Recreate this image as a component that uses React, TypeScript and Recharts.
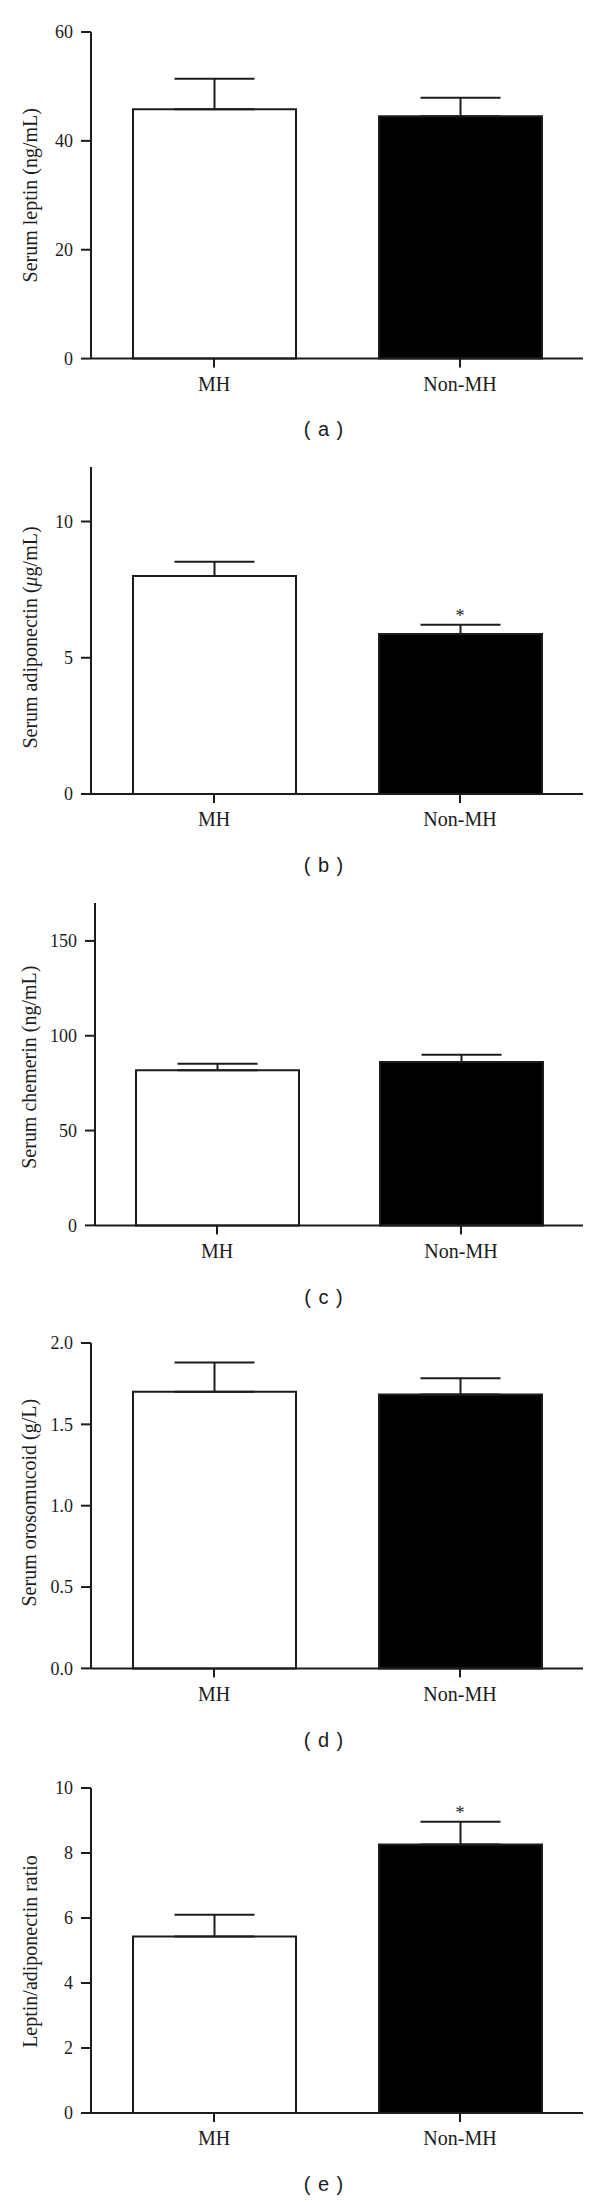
import React from 'react';
import { BarChart, Bar, XAxis, YAxis, Cell, ErrorBar, ReferenceDot, Label } from 'recharts';

const groups = ['MH', 'Non-MH'];

// group means and SEM (only the upper whisker is drawn)
const leptin = [45.8, 44.5];
const leptinSem = [5.6, 3.4];
const adiponectin = [8.0, 5.87];
const adiponectinSem = [0.52, 0.34];
const chemerin = [81.8, 86.2];
const chemerinSem = [3.5, 3.8];
const orosomucoid = [1.7, 1.684];
const orosomucoidSem = [0.18, 0.1];
const ratio = [5.43, 8.26];
const ratioSem = [0.67, 0.7];

// * = significant vs MH
const noStar = [false, false];
const adiponectinStar = [false, true];
const ratioStar = [false, true];

const leptinTicks = [0, 20, 40, 60];
const adiponectinTicks = [0, 5, 10];
const chemerinTicks = [0, 50, 100, 150];
const orosomucoidTicks = [0, 0.5, 1.0, 1.5, 2.0];
const ratioTicks = [0, 2, 4, 6, 8, 10];

const SERIF = '"Liberation Serif", "Times New Roman", serif';
const SANS = '"Liberation Sans", Arial, sans-serif';
const INK = '#1c1c1c';
const PAD_TOP = 20;
const X_H = 40;

const panels = [
  { tag: 'a', title: 'Serum leptin (ng/mL)', mean: leptin, sem: leptinSem, star: noStar, ticks: leptinTicks, max: 60, fmt: (v: number) => `${v}`, top: 31.7, zero: 358.3, left: 91, dy: 0 },
  { tag: 'b', title: 'Serum adiponectin (μg/mL)', mean: adiponectin, sem: adiponectinSem, star: adiponectinStar, ticks: adiponectinTicks, max: 12, fmt: (v: number) => `${v}`, top: 467.3, zero: 794.3, left: 91, dy: 7 },
  { tag: 'c', title: 'Serum chemerin (ng/mL)', mean: chemerin, sem: chemerinSem, star: noStar, ticks: chemerinTicks, max: 170, fmt: (v: number) => `${v}`, top: 903.3, zero: 1225.7, left: 95, dy: 3 },
  { tag: 'd', title: 'Serum orosomucoid (g/L)', mean: orosomucoid, sem: orosomucoidSem, star: noStar, ticks: orosomucoidTicks, max: 2, fmt: (v: number) => v.toFixed(1), top: 1343.3, zero: 1668.7, left: 91, dy: -3 },
  { tag: 'e', title: 'Leptin/adiponectin ratio', mean: ratio, sem: ratioSem, star: ratioStar, ticks: ratioTicks, max: 10, fmt: (v: number) => `${v}`, top: 1788.3, zero: 2113.3, left: 91, dy: 1 },
];

// rotated y title; the mu is set in italic like the original
const AxisTitle = ({ viewBox, text, dy }: any) => {
  const x = 36.5;
  const cy = viewBox.y + viewBox.height / 2 + dy;
  const parts = String(text).split('μ');
  return (
    <text x={x} y={cy} transform={`rotate(-90, ${x}, ${cy})`} textAnchor="middle" fontFamily={SERIF} fontSize={20} fill={INK}>
      {parts.map((p: string, i: number) => (
        <React.Fragment key={i}>
          {i > 0 && <tspan fontStyle="italic">μ</tspan>}
          <tspan>{p}</tspan>
        </React.Fragment>
      ))}
    </text>
  );
};

function Panel({ p }: { p: (typeof panels)[number] }) {
  const data = groups.map((g, i) => ({ group: g, mean: p.mean[i], err: [0, p.sem[i]] }));
  const plotH = p.zero - p.top;
  return (
    <>
      <div style={{ position: 'absolute', left: 0, top: p.top - PAD_TOP }}>
        <BarChart
          width={600}
          height={PAD_TOP + plotH + X_H}
          data={data}
          margin={{ top: PAD_TOP, right: 17, bottom: 0, left: 0 }}
          barSize={163}
        >
          <XAxis
            dataKey="group"
            height={X_H}
            tickSize={9}
            tickMargin={9}
            axisLine={{ stroke: INK, strokeWidth: 2 }}
            tickLine={{ stroke: INK, strokeWidth: 2 }}
            tick={{ fontFamily: SERIF, fontSize: 20, fill: INK }}
          />
          <YAxis
            width={p.left}
            domain={[0, p.max]}
            ticks={p.ticks}
            interval={0}
            tickFormatter={p.fmt}
            tickSize={10}
            tickMargin={8}
            axisLine={{ stroke: INK, strokeWidth: 2 }}
            tickLine={{ stroke: INK, strokeWidth: 2 }}
            tick={{ fontFamily: SERIF, fontSize: 18, fill: INK }}
          >
            <Label content={(props: any) => <AxisTitle {...props} text={p.title} dy={p.dy} />} />
          </YAxis>
          <Bar dataKey="mean" isAnimationActive={false} stroke={INK} strokeWidth={2}>
            {data.map((d, i) => (
              <Cell key={d.group} fill={i === 0 ? '#ffffff' : '#000000'} />
            ))}
            <ErrorBar dataKey="err" direction="y" width={40} stroke={INK} strokeWidth={2} isAnimationActive={false} />
          </Bar>
          {groups.map((g, i) =>
            p.star[i] ? (
              <ReferenceDot
                key={g}
                x={g}
                y={p.mean[i] + p.sem[i]}
                r={0}
                fill="none"
                stroke="none"
                label={{ value: '*', position: 'top', offset: 3, fontFamily: SERIF, fontSize: 18, fill: INK }}
              />
            ) : null
          )}
        </BarChart>
      </div>
      <div
        style={{
          position: 'absolute',
          left: 274,
          width: 100,
          top: p.zero + 59,
          textAlign: 'center',
          fontFamily: SANS,
          fontSize: 20,
          letterSpacing: 1,
          lineHeight: '24px',
          color: INK,
        }}
      >
        ( {p.tag} )
      </div>
    </>
  );
}

export default function App() {
  return (
    <div style={{ position: 'absolute', left: 0, top: 0, width: 600, height: 2202, background: '#fff', overflow: 'hidden' }}>
      {panels.map((p) => (
        <Panel key={p.tag} p={p} />
      ))}
    </div>
  );
}
